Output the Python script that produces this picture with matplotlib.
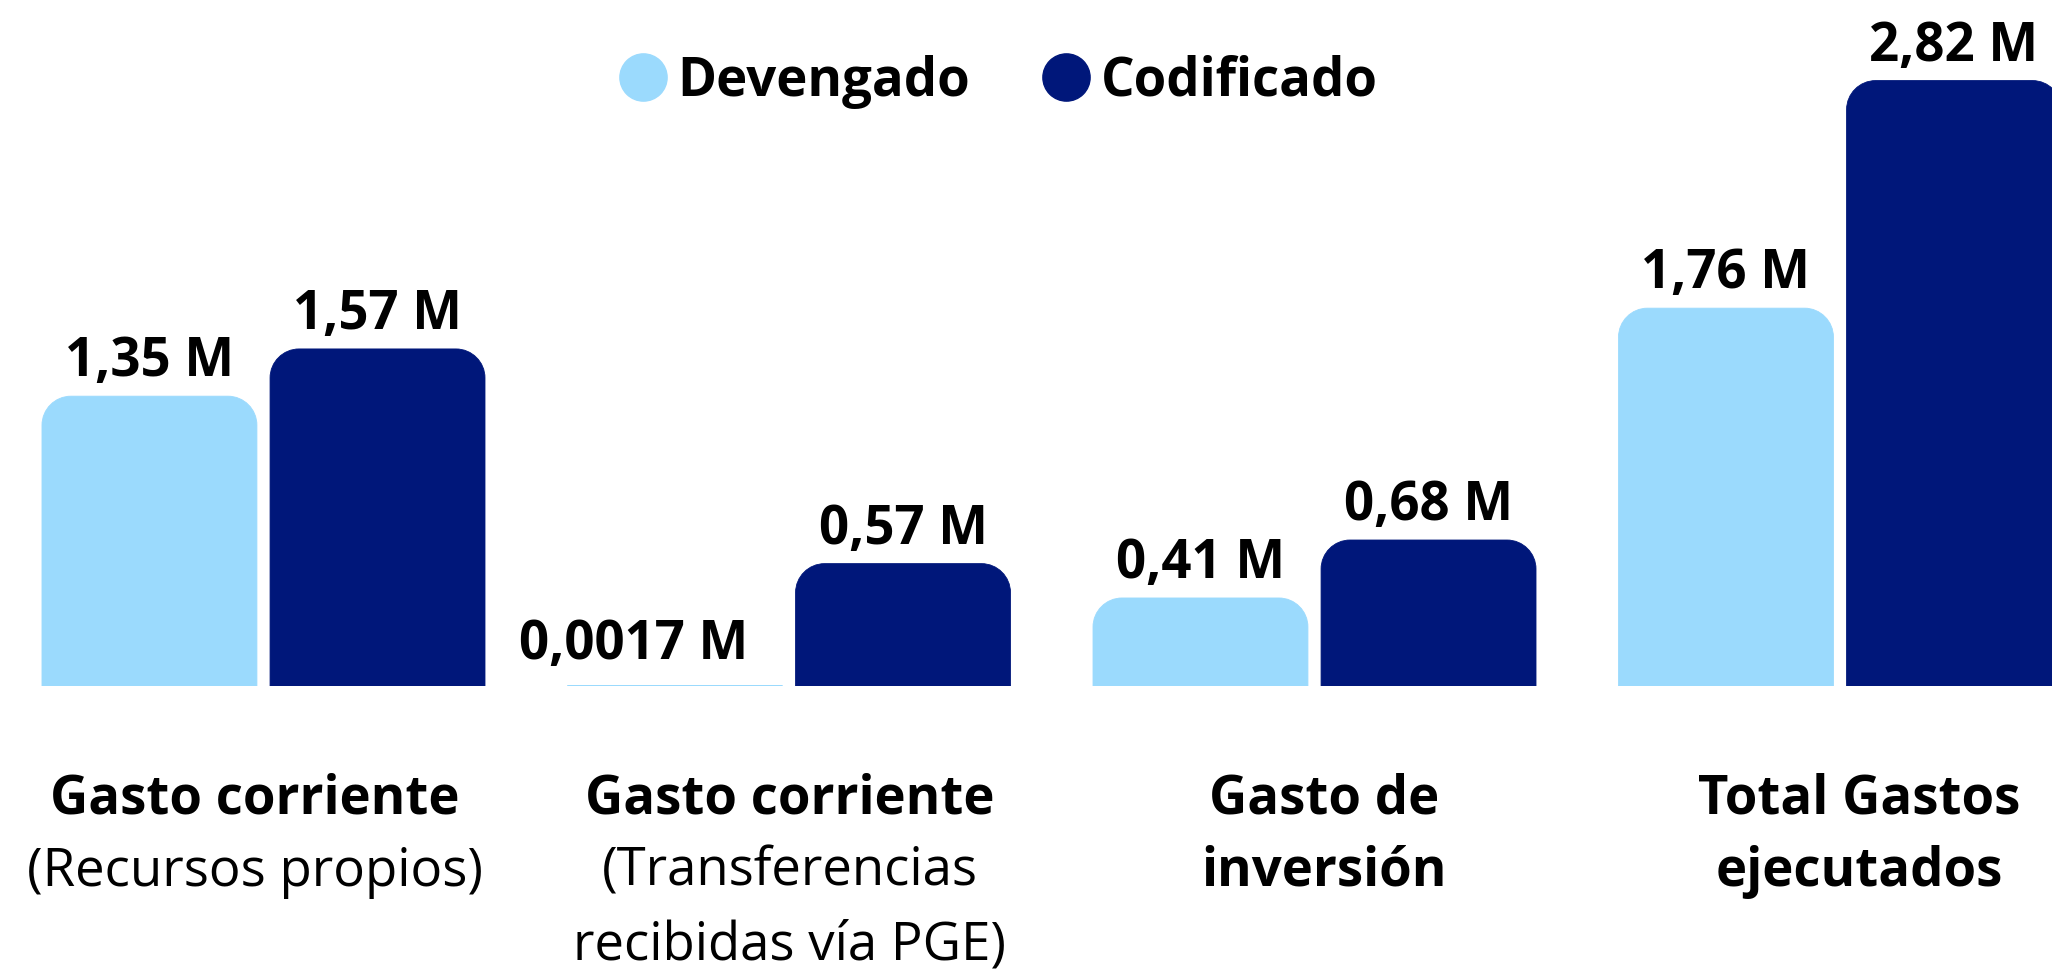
import numpy as np
import matplotlib.pyplot as plt
from matplotlib.path import Path
from matplotlib.patches import PathPatch
from matplotlib.lines import Line2D

plt.rcParams['font.family'] = ['Open Sans', 'DejaVu Sans']

# data
categories = [
    [("Gasto corriente", "bold"), ("(Recursos propios)", "normal")],
    [("Gasto corriente", "bold"), ("(Transferencias", "normal"), ("recibidas vía PGE)", "normal")],
    [("Gasto de", "bold"), ("inversión", "bold")],
    [("Total Gastos", "bold"), ("ejecutados", "bold")],
]
devengado = [1.35, 0.0017, 0.41, 1.76]
codificado = [1.57, 0.57, 0.68, 2.82]
dev_labels = ["1,35 M", "0,0017 M", "0,41 M", "1,76 M"]
cod_labels = ["1,57 M", "0,57 M", "0,68 M", "2,82 M"]

light = "#9BDAFD"
dark = "#00177A"

# the tiny bar's label is pushed left so it clears the next bar
nudge = {"0,0017 M": (-30, 20)}


def rounded_top(x0, w, h, rx, ry):
    if h < ry:
        rx = rx * h / ry
        ry = h
    k = 0.5523
    verts = [(x0, 0), (x0, h - ry),
             (x0, h - ry + k * ry), (x0 + rx - k * rx, h), (x0 + rx, h),
             (x0 + w - rx, h),
             (x0 + w - rx + k * rx, h), (x0 + w, h - ry + k * ry), (x0 + w, h - ry),
             (x0 + w, 0), (x0, 0)]
    codes = [Path.MOVETO, Path.LINETO,
             Path.CURVE4, Path.CURVE4, Path.CURVE4,
             Path.LINETO,
             Path.CURVE4, Path.CURVE4, Path.CURVE4,
             Path.LINETO, Path.CLOSEPOLY]
    return Path(verts, codes)


fig = plt.figure(figsize=(20.52, 9.70), dpi=100)
ax = fig.add_axes([0, 1 - 687 / 970, 1, 687 / 970])
ax.set_xlim(-0.5014, 3.4034)
ax.set_ylim(0, 3.2)
ax.axis("off")

x = np.arange(len(categories))
width = 0.409
off = 0.217
rx, ry = 0.0552, 0.135

for vals, labs, col, sign in [(devengado, dev_labels, light, -1), (codificado, cod_labels, dark, 1)]:
    bars = ax.bar(x + sign * off, vals, width, color=col)
    for b, v, lab in zip(bars, vals, labs):
        b.set_visible(False)
        p = rounded_top(b.get_x(), b.get_width(), b.get_height(), rx, ry)
        ax.add_patch(PathPatch(p, facecolor=col, edgecolor=col, lw=0.6))
        ax.annotate(lab, (b.get_x() + b.get_width() / 2, v), xytext=nudge.get(lab, (0, 15)),
                    textcoords="offset points", ha="center", va="baseline",
                    fontsize=38, fontweight="bold", color="black",
                    annotation_clip=False)

# category labels (below baseline)
label_step, label_shift = 1.018, -0.017
for i, lines in enumerate(categories):
    for j, (txt, wt) in enumerate(lines):
        ax.annotate(txt, (label_shift + i * label_step, 0), xytext=(0, -(126 + 73 * j) * 0.72),
                    textcoords="offset points", ha="center", va="baseline",
                    fontsize=38, fontweight=wt, color="black", annotation_clip=False)

handles = [Line2D([], [], ls="none", marker="o", markersize=34, color=light, mec=light),
           Line2D([], [], ls="none", marker="o", markersize=34, color=dark, mec=dark)]
fig.legend(handles, ["Devengado", "Codificado"], loc="center left",
           bbox_to_anchor=(619 / 2052, 1 - 82 / 970), ncol=2, frameon=False,
           prop={"size": 38, "weight": "bold"}, handlelength=0.9, handletextpad=0.21,
           columnspacing=1.36, borderpad=0, borderaxespad=0)

fig.savefig("out.png", dpi=100)
